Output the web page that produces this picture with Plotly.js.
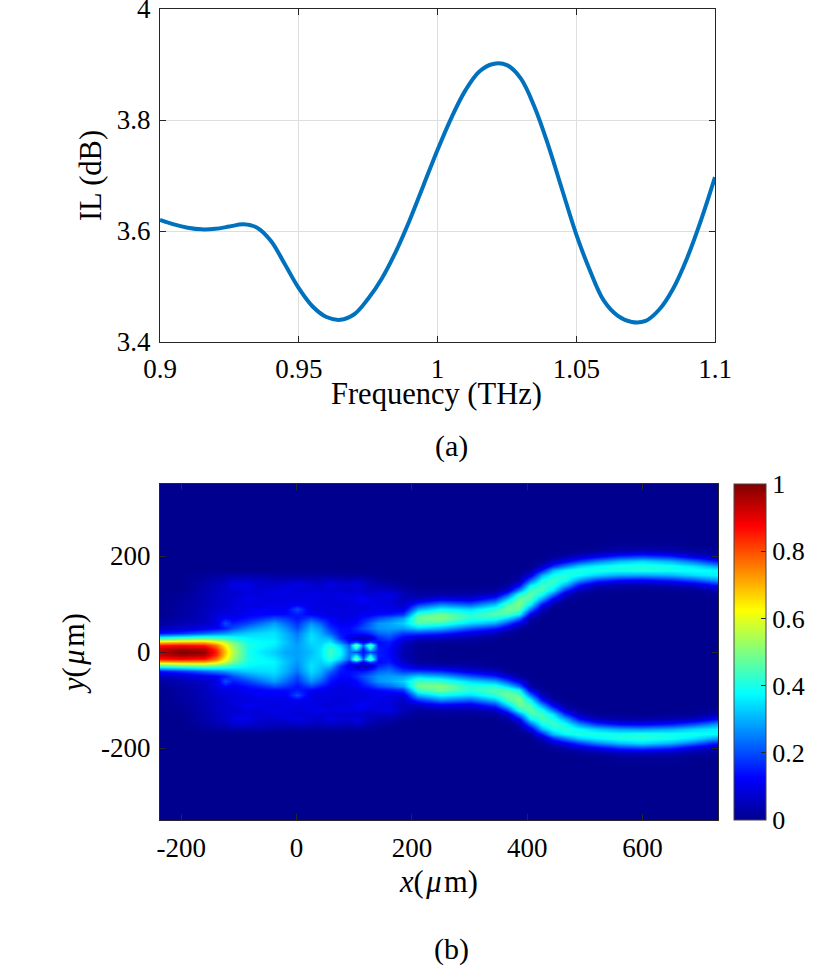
<!DOCTYPE html>
<html><head><meta charset="utf-8">
<script src="https://cdn.plot.ly/plotly-3.0.1.min.js"></script>
<style>html,body{margin:0;padding:0;background:#fff}</style></head>
<body><div id="chart" style="width:831px;height:967px"></div>
<script>
const frequency=[0.9,0.905,0.91,0.915,0.92,0.925,0.93,0.935,0.94,0.945,0.95,0.955,0.96,0.965,0.97,0.975,0.98,0.985,0.99,0.995,1.0,1.005,1.01,1.015,1.02,1.025,1.03,1.035,1.04,1.045,1.05,1.055,1.06,1.065,1.07,1.075,1.08,1.085,1.09,1.095,1.1];
const insertionLoss=[3.62,3.612,3.606,3.603,3.604,3.608,3.612,3.606,3.582,3.54,3.497,3.464,3.445,3.44,3.45,3.478,3.515,3.563,3.62,3.683,3.746,3.804,3.853,3.887,3.901,3.899,3.875,3.823,3.753,3.673,3.594,3.528,3.474,3.447,3.436,3.438,3.459,3.497,3.552,3.62,3.697];
const mapX=[-237,-200,-160,-140,-125,-110,-85,-65,-40,-20,0,25,40,58,75,90,103,115,128,142,160,185,210,250,300,345,365,385,405,425,445,465,490,520,560,600,650,690,731];
const mapYUpper=[0,7,14,21,30,40,50,60,70,80,90,100,110,120,130,140,150,160,170,180,190,200,210,220,240,350];
const fieldColumns=[
[.95,.93,.85,.68,.42,.14,.05,.02,.01],
[1,.97,.87,.7,.45,.17,.07,.04,.03,.02,.02,.02,.01,.01],
[.98,.95,.85,.7,.47,.22,.1,.06,.05,.05,.05,.04,.04,.04,.03,.03,.02,.01],
[.85,.83,.76,.64,.45,.25,.12,.09,.09,.08,.07,.06,.06,.06,.05,.05,.04,.02],
[.68,.67,.63,.56,.43,.27,.15,.2,.13,.09,.08,.07,.07,.07,.07,.06,.05,.02],
[.55,.54,.52,.48,.4,.3,.2,.15,.11,.09,.09,.09,.08,.07,.08,.1,.07,.03],
[.4,.4,.4,.39,.37,.33,.26,.19,.14,.12,.1,.09,.11,.09,.09,.1,.07,.03],
[.36,.37,.38,.38,.36,.34,.29,.23,.16,.12,.12,.09,.1,.08,.08,.07,.06,.03],
[.33,.34,.36,.37,.36,.35,.32,.28,.2,.13,.11,.1,.09,.1,.09,.07,.05,.02],
[.29,.3,.31,.32,.31,.3,.27,.23,.18,.13,.11,.1,.1,.09,.1,.08,.05,.02],
[.28,.28,.28,.27,.26,.24,.2,.17,.14,.15,.2,.11,.09,.09,.08,.1,.06,.02],
[.31,.32,.33,.34,.35,.34,.31,.27,.19,.12,.09,.1,.1,.1,.08,.08,.05,.02],
[.35,.35,.34,.33,.32,.3,.27,.22,.15,.11,.09,.09,.09,.1,.08,.07,.05,.02],
[.43,.43,.41,.36,.3,.22,.17,.14,.12,.09,.09,.09,.08,.09,.08,.1,.06,.02],
[.38,.37,.33,.25,.17,.14,.13,.11,.09,.09,.09,.08,.09,.1,.07,.08,.05,.02],
[.24,.24,.22,.14,.1,.13,.13,.11,.1,.09,.09,.09,.09,.09,.07,.08,.05,.01],
[.2,.35,.52,.2,.06,.14,.16,.13,.11,.09,.09,.09,.11,.1,.07,.1,.06,.02],
[.14,.15,.22,.1,.05,.14,.2,.17,.14,.11,.09,.1,.12,.09,.07,.07,.05,.01],
[.2,.35,.5,.19,.06,.17,.23,.22,.16,.11,.1,.1,.1,.08,.06,.05,.03,.01],
[.15,.15,.14,.13,.16,.22,.27,.27,.2,.13,.1,.1,.09,.09,.06,.04,.02],
[.13,.13,.14,.15,.19,.24,.28,.29,.23,.14,.1,.09,.09,.1,.06,.03,.01],
[.04,.04,.05,.07,.11,.18,.28,.33,.28,.17,.09,.06,.05,.05,.03,.01],
[.01,.01,.01,.02,.06,.18,.33,.45,.48,.43,.3,.17,.06,.02,.01],
[0,0,0,.01,.05,.16,.3,.43,.5,.48,.38,.25,.11,.03,.01],
[0,0,0,.01,.03,.09,.21,.34,.41,.41,.34,.21,.09,.03,.01],
[0,0,0,0,.01,.05,.15,.29,.41,.45,.42,.31,.18,.06,.02],
[0,0,0,0,0,.01,.08,.2,.34,.45,.48,.44,.33,.19,.07,.02],
[0,0,0,0,0,0,.02,.1,.23,.38,.47,.5,.48,.4,.26,.12,.03,.01],
[0,0,0,0,0,0,0,.01,.03,.11,.25,.38,.45,.47,.44,.36,.22,.09,.02],
[0,0,0,0,0,0,0,0,0,.01,.05,.14,.28,.39,.44,.44,.39,.3,.15,.05,.01],
[0,0,0,0,0,0,0,0,0,0,0,.03,.11,.24,.35,.41,.43,.39,.31,.17,.06,.01],
[0,0,0,0,0,0,0,0,0,0,0,0,.02,.07,.17,.3,.39,.42,.37,.25,.11,.03],
[0,0,0,0,0,0,0,0,0,0,0,0,0,.01,.05,.14,.27,.38,.4,.33,.18,.06,.01],
[0,0,0,0,0,0,0,0,0,0,0,0,0,0,.01,.05,.18,.33,.4,.37,.25,.1,.02],
[0,0,0,0,0,0,0,0,0,0,0,0,0,0,.01,.03,.13,.29,.39,.4,.31,.16,.04,.01],
[0,0,0,0,0,0,0,0,0,0,0,0,0,0,0,.03,.12,.28,.4,.41,.34,.18,.05,.01],
[0,0,0,0,0,0,0,0,0,0,0,0,0,0,.01,.04,.15,.3,.39,.39,.3,.15,.04,.01],
[0,0,0,0,0,0,0,0,0,0,0,0,0,0,.01,.06,.2,.34,.39,.35,.23,.08,.02],
[0,0,0,0,0,0,0,0,0,0,0,0,0,.01,.04,.14,.28,.37,.37,.28,.14,.04,.01]
];
const colorbarTicks=[0,0.2,0.4,0.6,0.8,1];
const W=831,H=967,serif='"Liberation Serif","Times New Roman",serif',ink='#262626';
// rows for y>=0, columns padded with the background level, then mirrored about y=0
const upper=mapYUpper.map((_,r)=>fieldColumns.map(c=>r<c.length?c[r]:0));
const mapY=mapYUpper.slice(1).reverse().map(v=>-v).concat(mapYUpper);
const mapZ=upper.slice(1).reverse().concat(upper);
const jet=[[0,'#00008f'],[.125,'#0000ff'],[.375,'#00ffff'],[.625,'#ffff00'],[.875,'#ff0000'],[1,'#800000']];
const axisBase={showline:true,linecolor:ink,linewidth:1,mirror:'ticks',ticks:'inside',ticklen:6,tickcolor:ink,tickwidth:1,zeroline:false,
  tickfont:{family:serif,size:27,color:'#000'},automargin:false,ticklabeloverflow:'allow'};
const titleFont={family:serif,size:30.5,color:'#000'};
const data=[
 {type:'scatter',mode:'lines',x:frequency,y:insertionLoss,xaxis:'x',yaxis:'y',line:{color:'#0072BD',width:4,shape:'spline',smoothing:1},showlegend:false,hoverinfo:'x+y'},
 {type:'heatmap',x:mapX,y:mapY,z:mapZ,xaxis:'x2',yaxis:'y2',zmin:0,zmax:1,zsmooth:'best',colorscale:jet,
  colorbar:{x:734/W,xanchor:'left',xref:'paper',y:(H-820)/H,yanchor:'bottom',yref:'paper',len:(820-484)/H,lenmode:'fraction',thickness:32,thicknessmode:'pixels',
   outlinecolor:'#444',outlinewidth:1,tickmode:'array',tickvals:colorbarTicks,ticktext:colorbarTicks.map(String),tickprefix:'\u00A0',ticks:'inside',ticklen:5,tickcolor:ink,
   tickfont:{family:serif,size:26,color:'#000'},xpad:0,ypad:0,borderwidth:0}}
];
const layout={width:W,height:H,margin:{l:0,r:0,t:0,b:0},paper_bgcolor:'#fff',plot_bgcolor:'#fff',
 xaxis:Object.assign({},axisBase,{domain:[160/W,715/W],range:[0.9,1.1],tickvals:[0.9,0.95,1,1.05,1.1],ticktext:['0.9','0.95','1','1.05','1.1'],showgrid:true,gridcolor:'#dedede',anchor:'y',ticklabelstandoff:3}),
 yaxis:Object.assign({},axisBase,{domain:[(H-342)/H,(H-9)/H],range:[3.4,4],tickvals:[3.4,3.6,3.8,4],ticktext:['3.4','3.6','3.8','4'],showgrid:true,gridcolor:'#dedede',anchor:'x',ticklabelstandoff:3,
   title:{text:'IL (dB)',font:titleFont,standoff:6}}),
 xaxis2:Object.assign({},axisBase,{domain:[160/W,718/W],range:[-237,731],tickvals:[-200,0,200,400,600],ticktext:['-200','0','200','400','600'],showgrid:false,anchor:'y2',ticklabelstandoff:4,
   title:{text:'<i>x</i>(\u200A<i>μ</i>\u200Am)',font:titleFont,standoff:8}}),
 yaxis2:Object.assign({},axisBase,{domain:[(H-820)/H,(H-484)/H],range:[-350,350],tickvals:[-200,0,200],ticktext:['-200','0','200'],showgrid:false,anchor:'x2',ticklabelstandoff:3,
   title:{text:'<i>y</i>(\u200A<i>μ</i>\u200Am)',font:titleFont,standoff:7}}),
 annotations:[
  {text:'Frequency (THz)',xref:'paper',yref:'paper',x:437/W,y:1-394/H,xanchor:'center',yanchor:'middle',showarrow:false,font:titleFont},
  {text:'(a)',xref:'paper',yref:'paper',x:451/W,y:1-446/H,xanchor:'center',yanchor:'middle',showarrow:false,font:{family:serif,size:30,color:'#000'}},
  {text:'(b)',xref:'paper',yref:'paper',x:451/W,y:1-949/H,xanchor:'center',yanchor:'middle',showarrow:false,font:{family:serif,size:30,color:'#000'}}
 ]};
Plotly.newPlot('chart',data,layout,{displayModeBar:false,responsive:false});
</script></body></html>
